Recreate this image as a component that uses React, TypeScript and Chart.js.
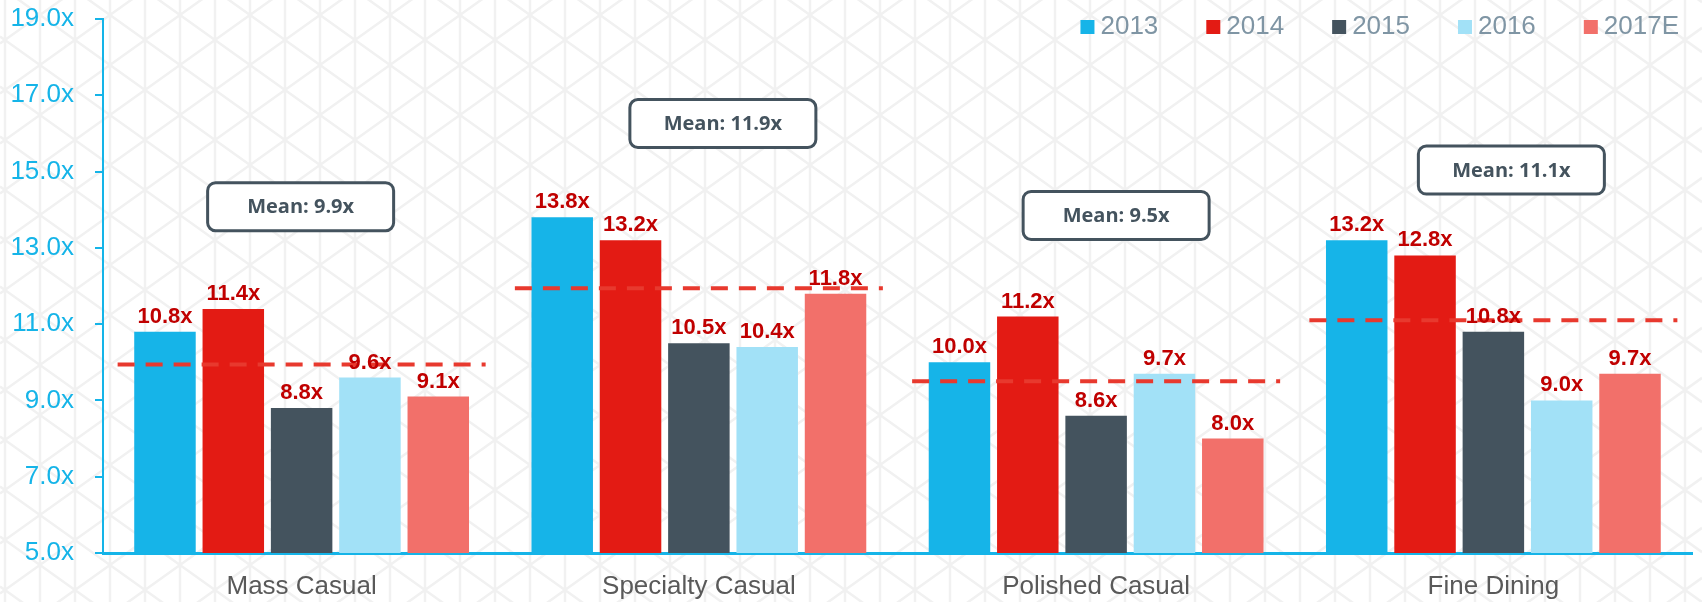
import React, { useEffect, useRef } from 'react';
import { Chart, registerables } from 'chart.js';

Chart.register(...registerables);

// ---- data ----
const categories = ['Mass Casual', 'Specialty Casual', 'Polished Casual', 'Fine Dining'];
const seriesLabels = ['2013', '2014', '2015', '2016', '2017E'];
const values2013 = [10.8, 13.8, 10.0, 13.2];
const values2014 = [11.4, 13.2, 11.2, 12.8];
const values2015 = [8.8, 10.5, 8.6, 10.8];
const values2016 = [9.6, 10.4, 9.7, 9.0];
const values2017E = [9.1, 11.8, 8.0, 9.7];
const meanValues = [9.94, 11.94, 9.5, 11.1];
const yTickMin = 5;
const yTickMax = 19;
const yTickStep = 2;

// ---- styles / annotation layout ----
const seriesColors = ['#16B4E8', '#E31B14', '#44535E', '#A2E1F7', '#F2706A'];
const FONT = "'Liberation Sans', Arial, Helvetica, sans-serif";
const BOX_FONT = "'Open Sans', 'Liberation Sans', Arial, sans-serif";
const boxYValue = [14.08, 16.26, 13.85, 15.04];
const boxXOffset = [-1, 24, 20, 18];

export default function App() {
  const ref = useRef<HTMLCanvasElement>(null);

  useEffect(() => {
    const canvas = ref.current;
    if (!canvas) return;
    const allValues = [values2013, values2014, values2015, values2016, values2017E];

    const bgPlugin = {
      id: 'bgPattern',
      beforeDraw(chart: any) {
        const ctx = chart.ctx as CanvasRenderingContext2D;
        const W = chart.width;
        const H = chart.height;
        ctx.save();
        ctx.fillStyle = '#ffffff';
        ctx.fillRect(0, 0, W, H);
        ctx.strokeStyle = '#F1F1F1';
        ctx.lineWidth = 2.5;
        ctx.beginPath();
        for (let x = 5; x < W; x += 35) {
          ctx.moveTo(x, 0);
          ctx.lineTo(x, H);
        }
        const k = 25 / 35;
        for (let n = -30; n < 20; n++) {
          const y0 = 36.43 + 50 * n;
          ctx.moveTo(0, y0);
          ctx.lineTo(W, y0 + k * W);
        }
        for (let n = -5; n < 40; n++) {
          const y0 = 43.57 + 50 * n;
          ctx.moveTo(0, y0);
          ctx.lineTo(W, y0 - k * W);
        }
        ctx.stroke();
        ctx.restore();
      },
    };

    const overlayPlugin = {
      id: 'overlay',
      afterDatasetsDraw(chart: any) {
        const ctx = chart.ctx as CanvasRenderingContext2D;
        const xs = chart.scales.x;
        const ys = chart.scales.y;
        ctx.save();
        // mean dashed lines
        ctx.strokeStyle = '#E8392E';
        ctx.lineWidth = 4;
        ctx.setLineDash([17, 11]);
        meanValues.forEach((m, i) => {
          const cx = xs.getPixelForValue(i);
          const y = ys.getPixelForValue(m);
          ctx.beginPath();
          ctx.moveTo(cx - 184, y);
          ctx.lineTo(cx + 184, y);
          ctx.stroke();
        });
        ctx.setLineDash([]);
        // value labels
        ctx.fillStyle = '#C00000';
        ctx.font = `bold 22px ${FONT}`;
        ctx.textAlign = 'center';
        ctx.textBaseline = 'alphabetic';
        chart.data.datasets.forEach((ds: any, di: number) => {
          const meta = chart.getDatasetMeta(di);
          meta.data.forEach((bar: any, j: number) => {
            const v = allValues[di][j];
            ctx.fillText(v.toFixed(1) + 'x', bar.x, bar.y - 9);
          });
        });
        ctx.restore();
      },
      afterDraw(chart: any) {
        const ctx = chart.ctx as CanvasRenderingContext2D;
        const xs = chart.scales.x;
        const ys = chart.scales.y;
        ctx.save();
        // mean boxes
        const bw = 186;
        const bh = 48;
        meanValues.forEach((m, i) => {
          const cx = xs.getPixelForValue(i) + boxXOffset[i];
          const cy = ys.getPixelForValue(boxYValue[i]);
          ctx.beginPath();
          ctx.roundRect(cx - bw / 2, cy - bh / 2, bw, bh, 8);
          ctx.fillStyle = '#ffffff';
          ctx.fill();
          ctx.lineWidth = 3;
          ctx.strokeStyle = '#44535E';
          ctx.stroke();
          ctx.fillStyle = '#44535E';
          ctx.font = `bold 20px ${BOX_FONT}`;
          ctx.textAlign = 'center';
          ctx.textBaseline = 'middle';
          ctx.fillText(`Mean: ${m.toFixed(1)}x`, cx, cy + 1);
        });
        // legend
        ctx.font = `26px ${FONT}`;
        const box = 14;
        const gapText = 6;
        const gapItem = 48;
        const items = chart.data.datasets.map((ds: any) => ({
          label: ds.label as string,
          color: ds.backgroundColor as string,
          w: ctx.measureText(ds.label).width,
        }));
        const total = items.reduce((s: number, it: any) => s + box + gapText + it.w, 0) + gapItem * (items.length - 1);
        let x = 1679 - total;
        const yc = 27;
        ctx.textAlign = 'left';
        ctx.textBaseline = 'middle';
        items.forEach((it: any) => {
          ctx.fillStyle = it.color;
          ctx.fillRect(x, yc - box / 2, box, box);
          ctx.fillStyle = '#7F95A4';
          ctx.fillText(it.label, x + box + gapText, yc);
          x += box + gapText + it.w + gapItem;
        });
        ctx.restore();
      },
    };

    const chart = new Chart(canvas, {
      type: 'bar',
      data: {
        labels: categories,
        datasets: seriesLabels.map((label, i) => ({
          label,
          data: allValues[i],
          backgroundColor: seriesColors[i],
          borderWidth: 0,
          categoryPercentage: 0.86,
          barPercentage: 0.9,
        })),
      },
      options: {
        responsive: false,
        animation: false,
        devicePixelRatio: 1,
        layout: { padding: { left: 0, right: 10, top: 19, bottom: 0 } },
        plugins: {
          legend: { display: false },
          tooltip: { enabled: false },
        },
        scales: {
          x: {
            grid: { display: false, drawTicks: false, tickLength: 0 },
            border: { display: true, color: '#15B4E8', width: 3 },
            ticks: { color: '#595959', font: { family: FONT, size: 26 }, padding: 18 },
            afterFit(s: any) {
              s.height = 49;
            },
          },
          y: {
            min: yTickMin,
            max: yTickMax,
            ticks: {
              stepSize: yTickStep,
              callback: (v: any) => Number(v).toFixed(1) + 'x',
              color: '#15B4E8',
              font: { family: FONT, size: 26 },
              padding: 21,
            },
            grid: { drawOnChartArea: false, drawTicks: true, tickLength: 8, color: '#15B4E8', lineWidth: 2 },
            border: { display: true, color: '#15B4E8', width: 2 },
            afterFit(s: any) {
              s.width = 103;
              s.paddingTop = 0;
              s.paddingBottom = 0;
            },
          },
        },
      },
      plugins: [bgPlugin, overlayPlugin],
    });
    return () => chart.destroy();
  }, []);

  return (
    <div style={{ position: 'fixed', left: 0, top: 0, width: 1702, height: 602, background: '#fff' }}>
      <canvas ref={ref} width={1702} height={602} style={{ display: 'block', width: 1702, height: 602 }} />
    </div>
  );
}
